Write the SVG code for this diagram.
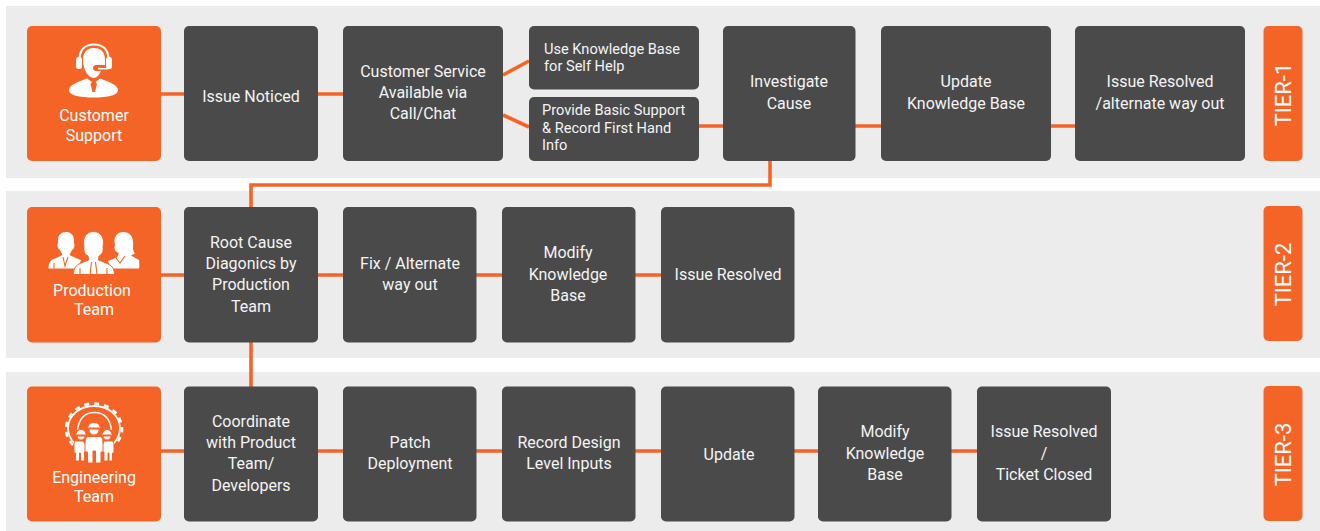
<svg xmlns="http://www.w3.org/2000/svg" width="1320" height="531" viewBox="0 0 1320 531">
<style>
.band{fill:#ececec}
.o{fill:#f46426}
.d{fill:#4a4a4a}
.t{font-family:Roboto,"Liberation Sans",sans-serif;font-size:16px;font-weight:450;fill:#f4f4f4;text-anchor:middle}
.s{font-size:14.6px;text-anchor:start}
.w{font-family:Roboto,"Liberation Sans",sans-serif;font-size:16px;font-weight:450;fill:#fff;text-anchor:middle}
.tier{font-family:Roboto,"Liberation Sans",sans-serif;font-size:22px;fill:#fff;text-anchor:middle}
.c{stroke:#f46426;stroke-width:3.6;fill:none}
.i{fill:#fff}
.il{fill:none;stroke:#fff}
.g{fill:#fff;stroke:#f46426;stroke-width:1}
.gl{fill:none;stroke:#f46426;stroke-width:1.1}
</style>
<rect width="1320" height="531" fill="#fff"/>
<g id="bands">
<rect class="band" x="6" y="6" width="1314" height="172"/>
<rect class="band" x="6" y="191" width="1314" height="167"/>
<rect class="band" x="6" y="372" width="1314" height="159"/>
</g>
<g id="connectors">
<path class="c" d="M161 94H184M318 94H343M503 75L529 61M503 115L529 127M699 126H723M855 126H881M1051 126H1075"/>
<path class="c" d="M770 161V185H251V207"/>
<path class="c" d="M161 275H184M318 275H343M476 275H502M635 275H661"/>
<path class="c" d="M251 342V387"/>
<path class="c" d="M161 451H184M318 451H343M476 451H502M635 451H661M794 451H818M951 451H977"/>
</g>
<g id="customer-support">
<rect class="o" x="27" y="26" width="134" height="135" rx="5"/>
<path class="i" d="M69 90C69 85 78 82 87 78.500L92 82L90.500 84L92.500 92H95L97 84L95.500 82L100 78.500C109 82 118 85 118 90C118 95.500 108 97.500 93.500 97.500C79 97.500 69 95.500 69 90Z"/>
<path class="i" d="M83 60C83 52 87 48 94 48C101 48 105 52 105 60V65H96C92 65 92 71 96 71H101C99 75 97 78 94 78C88 78 83 69 83 60Z"/>
<path class="il" stroke-width="2.200" d="M79.500 60C79.500 49 86 44.500 94 44.500C102 44.500 108.500 49 108.500 60"/>
<rect class="i" x="76" y="57" width="6" height="12" rx="2.500"/>
<rect class="i" x="106" y="57" width="6" height="12" rx="2.500"/>
<path class="il" stroke-width="1.500" d="M109 68C109 69 104 69 98 68.500"/>
<text class="w" x="94" y="121">Customer</text>
<text class="w" x="94" y="141">Support</text>
</g>
<g id="issue-noticed"><rect class="d" x="184" y="26" width="134" height="135" rx="5"/><text class="t" x="251" y="102">Issue Noticed</text></g>
<g id="customer-service"><rect class="d" x="343" y="26" width="160" height="135" rx="5"/><text class="t" x="423" y="77">Customer Service</text><text class="t" x="423" y="98">Available via</text><text class="t" x="423" y="119">Call/Chat</text></g>
<g id="self-help"><rect class="d" x="529" y="26" width="170" height="63.500" rx="5"/><text class="t s" x="544" y="54">Use Knowledge Base</text><text class="t s" x="544" y="71">for Self Help</text></g>
<g id="basic-support"><rect class="d" x="529" y="97" width="170" height="64" rx="5"/><text class="t s" x="542" y="115">Provide Basic Support</text><text class="t s" x="542" y="133">&amp; Record First Hand</text><text class="t s" x="542" y="150">Info</text></g>
<g id="investigate"><rect class="d" x="723" y="26" width="132.500" height="135" rx="5"/><text class="t" x="789" y="87">Investigate</text><text class="t" x="789" y="109">Cause</text></g>
<g id="update-kb"><rect class="d" x="881" y="26" width="170" height="135" rx="5"/><text class="t" x="966" y="87">Update</text><text class="t" x="966" y="109">Knowledge Base</text></g>
<g id="issue-resolved-1"><rect class="d" x="1075" y="26" width="170" height="135" rx="5"/><text class="t" x="1160" y="87">Issue Resolved</text><text class="t" x="1160" y="109">/alternate way out</text></g>
<g id="tier-1"><rect class="o" x="1263.500" y="26" width="39" height="135" rx="5"/><text class="tier" transform="translate(1291 94.500) rotate(-90)">TIER-1</text></g>

<g id="production-team">
<rect class="o" x="27" y="207" width="134" height="135.500" rx="5"/>
<path class="i" d="M48.500 268.500C48.500 262 51 260 55 258.500L62.500 255L60 250C57.500 249 57 245 58 243C57.500 236 60 232 66 232C72 232 74.500 236 74 243C75 245 74.500 249 72 250L69.500 255L77 258.500L81 260L78 268.500Z"/>
<path class="i" d="M111 268.500L108 261L117 257.500L119 253C115 252 113.500 249 115 245C113 237 117 232 123.500 232C130 232 134 237 133 246C133 250 133.500 252 135 253.500L131 255.500L139 260C139.500 263 139.500 266 139 268.500Z"/>
<path class="g" d="M73.500 274.500C73.500 268 76 265 81 263L88.500 260L88 256C85 255 83 251 84 247C82 238 86 231.500 93.500 231.500C101 231.500 105 238 103 247C104 251 102 255 99 256L98.500 260L106 263C111 265 114.500 268 114.500 274.500Z"/>
<path class="gl" d="M91.500 262L90 274.500M95.500 262L97 274.500M80 274.500V268M107 274.500V268M125 256L120 263L116 258M54 268.500V263M63 257L65 266L68 257"/>
<text class="w" x="92" y="296">Production</text>
<text class="w" x="94" y="315">Team</text>
</g>
<g id="root-cause"><rect class="d" x="184" y="207" width="134" height="135.500" rx="5"/><text class="t" x="251" y="248">Root Cause</text><text class="t" x="251" y="269">Diagonics by</text><text class="t" x="251" y="290">Production</text><text class="t" x="251" y="312">Team</text></g>
<g id="fix"><rect class="d" x="343" y="207" width="133.500" height="135.500" rx="5"/><text class="t" x="410" y="269">Fix / Alternate</text><text class="t" x="410" y="290">way out</text></g>
<g id="modify-kb-2"><rect class="d" x="502" y="207" width="133.500" height="135.500" rx="5"/><text class="t" x="568" y="258">Modify</text><text class="t" x="568" y="280">Knowledge</text><text class="t" x="568" y="301">Base</text></g>
<g id="issue-resolved-2"><rect class="d" x="661" y="207" width="133.500" height="135.500" rx="5"/><text class="t" x="728" y="280">Issue Resolved</text></g>
<g id="tier-2"><rect class="o" x="1263.500" y="206" width="39" height="135" rx="5"/><text class="tier" transform="translate(1291 274.500) rotate(-90)">TIER-2</text></g>

<g id="engineering-team">
<rect class="o" x="27" y="386.500" width="134" height="135" rx="5"/>
<path class="il" stroke-width="1.800" d="M75 444C70 439 68 433 68 428C68.500 415 80 406 94 406C108 406 119.500 415 120 428C120 433 118 439 113 444"/>
<path class="il" stroke-width="2.600" stroke-dasharray="5 5" d="M73 445C68 440 65.500 433 66 428C67 414 79 403.500 94 403.500C109 403.500 121 414 122 428C122.500 433 120 440 115 445"/>
<path class="il" stroke-width="1.500" d="M77.500 430C79 419 85 412.500 94.500 412.500C104 412.500 110 419 111.500 430"/>
<path class="g" d="M75 441H83L86 445V452H84.500V461H80.500V453H79.500V461H75.500V453H74V445C74 443 74.500 441.500 75 441ZM76 434C76.500 431 78.500 429.500 81 429.500C83.500 429.500 85.500 431 86 434L87 435H75ZM77 436H85C85 438 83.500 440 81 440C78.500 440 77 438 77 436Z"/>
<path class="g" d="M104 441H112C113 441.500 114 443 114 445V453H112.500V461H109V453H108V461H104V452H102.500V445ZM102 434C103 431 105 429.500 107 429.500C109.500 429.500 111 431 112 434L113 435H101ZM103 436H111C111 438 109.500 440 107 440C104.500 440 103 438 103 436Z"/>
<path class="g" d="M88 436.500H100C102 437 103 439 103 444V452H101V463H95.500V451H93V463H87.500V452H85V444C85 439 86 437 88 436.500ZM88 426.500C89 423.500 91 422.500 94 422.500C97 422.500 99 423.500 100 426.500L101 428H87ZM89 429H99C99 432.500 97 435 94 435C91 435 89 432.500 89 429Z"/>
<text class="w" x="94" y="483">Engineering</text>
<text class="w" x="94" y="502">Team</text>
</g>
<g id="coordinate"><rect class="d" x="184" y="386.500" width="134" height="135" rx="5"/><text class="t" x="251" y="427">Coordinate</text><text class="t" x="251" y="448">with Product</text><text class="t" x="251" y="469">Team/</text><text class="t" x="251" y="491">Developers</text></g>
<g id="patch"><rect class="d" x="343" y="386.500" width="133.500" height="135" rx="5"/><text class="t" x="410" y="448">Patch</text><text class="t" x="410" y="469">Deployment</text></g>
<g id="record-design"><rect class="d" x="502" y="386.500" width="133.500" height="135" rx="5"/><text class="t" x="569" y="448">Record Design</text><text class="t" x="569" y="469">Level Inputs</text></g>
<g id="update"><rect class="d" x="661" y="386.500" width="133.500" height="135" rx="5"/><text class="t" x="729" y="460">Update</text></g>
<g id="modify-kb-3"><rect class="d" x="818" y="386.500" width="133.500" height="135" rx="5"/><text class="t" x="885" y="437">Modify</text><text class="t" x="885" y="459">Knowledge</text><text class="t" x="885" y="480">Base</text></g>
<g id="ticket-closed"><rect class="d" x="977" y="386.500" width="134" height="135" rx="5"/><text class="t" x="1044" y="437">Issue Resolved</text><text class="t" x="1044" y="459">/</text><text class="t" x="1044" y="480">Ticket Closed</text></g>
<g id="tier-3"><rect class="o" x="1263.500" y="386" width="39" height="135" rx="5"/><text class="tier" transform="translate(1291 454.500) rotate(-90)">TIER-3</text></g>
</svg>
